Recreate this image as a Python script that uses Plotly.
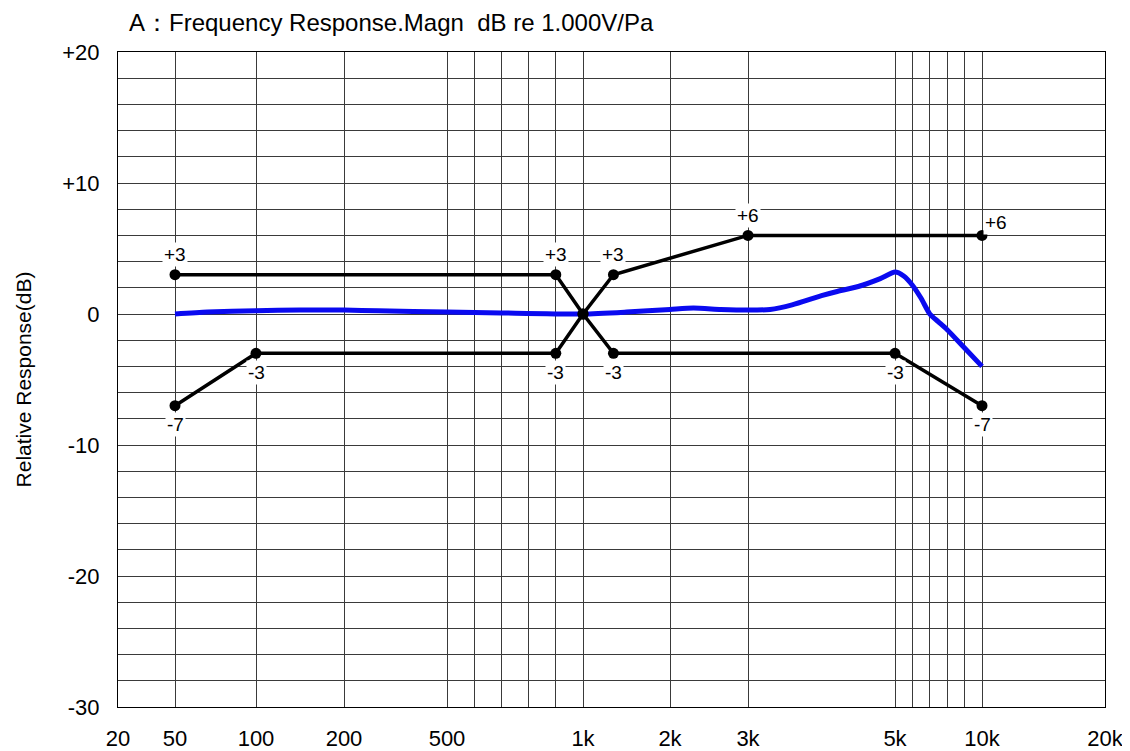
import numpy as np
import plotly.graph_objects as go

# ---------------- data ----------------
# measured response (blue)
resp_freq = [50, 70, 100, 150, 200, 300, 500, 700, 1000, 1500, 2000, 2300, 2650,
             3000, 3300, 3600, 4000, 4200, 4500, 4800, 5000, 5500, 6000, 6500,
             7000, 7500, 8000, 9000, 10000]
resp_db = [0.0, 0.15, 0.25, 0.3, 0.3, 0.25, 0.15, 0.08, 0.0, 0.15, 0.35, 0.45, 0.35,
           0.3, 0.35, 0.7, 1.4, 1.7, 2.1, 2.7, 3.2, 2.9, 2.2, 1.2,
           0.0, -0.6, -1.2, -2.6, -4.0]

# tolerance limits (black)
upper_freq = [50, 900, 1000, 1350, 3000, 10000]
upper_db = [3, 3, 0, 3, 6, 6]
lower_freq = [50, 100, 900, 1000, 1350, 5000, 10000]
lower_db = [-7, -3, -3, 0, -3, -3, -7]

# point labels
upper_lbl_freq = [50, 900, 1350, 3000]
upper_lbl_db = [3, 3, 3, 6]
upper_lbl_text = ["+3", "+3", "+3", "+6"]
lower_lbl_freq = [50, 100, 900, 1350, 5000, 10000]
lower_lbl_db = [-7, -3, -3, -3, -3, -7]
lower_lbl_text = ["-7", "-3", "-3", "-3", "-3", "-7"]
side_lbl_freq = [10000]
side_lbl_db = [6]
side_lbl_text = ["+6"]

# axis ticks
x_tick_freq = [20, 50, 100, 200, 500, 600, 700, 800, 900, 1000, 2000, 3000,
               5000, 6000, 7000, 8000, 9000, 10000, 20000]
x_tick_text = ["20", "50", "100", "200", "500", "", "", "", "", "1k", "2k", "3k",
               "5k", "", "", "", "", "10k", "20k"]
y_tick_vals = list(range(-30, 21, 2))
y_tick_text = [("+%d" % v if v > 0 else "%d" % v) if v % 10 == 0 else "" for v in y_tick_vals]

# ---------------- x scale of the original sheet (piecewise, non-uniform) ----------------
SCALE_FREQ = [20, 50, 100, 200, 500, 1000, 2000, 3000, 5000, 10000, 20000]
SCALE_UNIT = [0, 57, 138, 226, 329, 465, 552, 630, 777, 864, 987]


def sx(f):
    return np.interp(np.asarray(f, dtype=float), SCALE_FREQ, SCALE_UNIT)


FONT = "Liberation Sans, Arial, sans-serif"

fig = go.Figure()

fig.add_trace(go.Scatter(x=sx(resp_freq), y=resp_db, mode="lines",
                         line=dict(color="#0a0af0", width=5, shape="spline", smoothing=0.6),
                         hoverinfo="skip"))
fig.add_trace(go.Scatter(x=sx(upper_freq), y=upper_db, mode="lines+markers",
                         line=dict(color="black", width=3.5),
                         marker=dict(color="black", size=11), hoverinfo="skip"))
fig.add_trace(go.Scatter(x=sx(lower_freq), y=lower_db, mode="lines+markers",
                         line=dict(color="black", width=3.5),
                         marker=dict(color="black", size=11), hoverinfo="skip"))

for f, d, t in zip(upper_lbl_freq, upper_lbl_db, upper_lbl_text):
    fig.add_annotation(x=float(sx(f)), y=d, text=t, showarrow=False, yshift=20,
                       bgcolor="white", borderpad=1,
                       font=dict(family=FONT, size=19, color="black"))
for f, d, t in zip(lower_lbl_freq, lower_lbl_db, lower_lbl_text):
    fig.add_annotation(x=float(sx(f)), y=d, text=t, showarrow=False, yshift=-19,
                       bgcolor="white", borderpad=1,
                       font=dict(family=FONT, size=19, color="black"))
for f, d, t in zip(side_lbl_freq, side_lbl_db, side_lbl_text):
    fig.add_annotation(x=float(sx(f)), y=d, text=t, showarrow=False, yshift=13, xshift=14,
                       bgcolor="white", borderpad=1,
                       font=dict(family=FONT, size=19, color="black"))

fig.add_annotation(xref="paper", yref="paper", x=0, y=1.0, xshift=9, yshift=30,
                   xanchor="left", yanchor="middle", showarrow=False,
                   text="A：Frequency Response.Magn  dB re 1.000V/Pa",
                   font=dict(family=FONT, size=24, color="black"))

# the page places the figure 8px in from the window's top-left corner
fig.update_layout(
    width=1122, height=743,
    margin=dict(l=110, r=25, t=44, b=44),
    paper_bgcolor="white", plot_bgcolor="white",
    showlegend=False,
    font=dict(family=FONT, color="black"),
    xaxis=dict(range=[SCALE_UNIT[0], SCALE_UNIT[-1]], tickmode="array",
               tickvals=list(sx(x_tick_freq)), ticktext=x_tick_text,
               showgrid=True, gridcolor="#3a3a3a", gridwidth=1,
               showline=True, linecolor="black", linewidth=1, mirror=True,
               ticks="", ticklabelstandoff=12, zeroline=False, automargin=False,
               tickfont=dict(family=FONT, size=22, color="black")),
    yaxis=dict(range=[-30, 20], tickmode="array", tickvals=y_tick_vals,
               ticktext=y_tick_text, showgrid=True, gridcolor="#3a3a3a", gridwidth=1,
               showline=True, linecolor="black", linewidth=1, mirror=True,
               ticks="", ticklabelstandoff=13, zeroline=False, automargin=False,
               tickfont=dict(family=FONT, size=22, color="black"),
               title=dict(text="Relative Response(dB)", standoff=24,
                          font=dict(family=FONT, size=21, color="black"))),
)

fig.write_html("out.html")
